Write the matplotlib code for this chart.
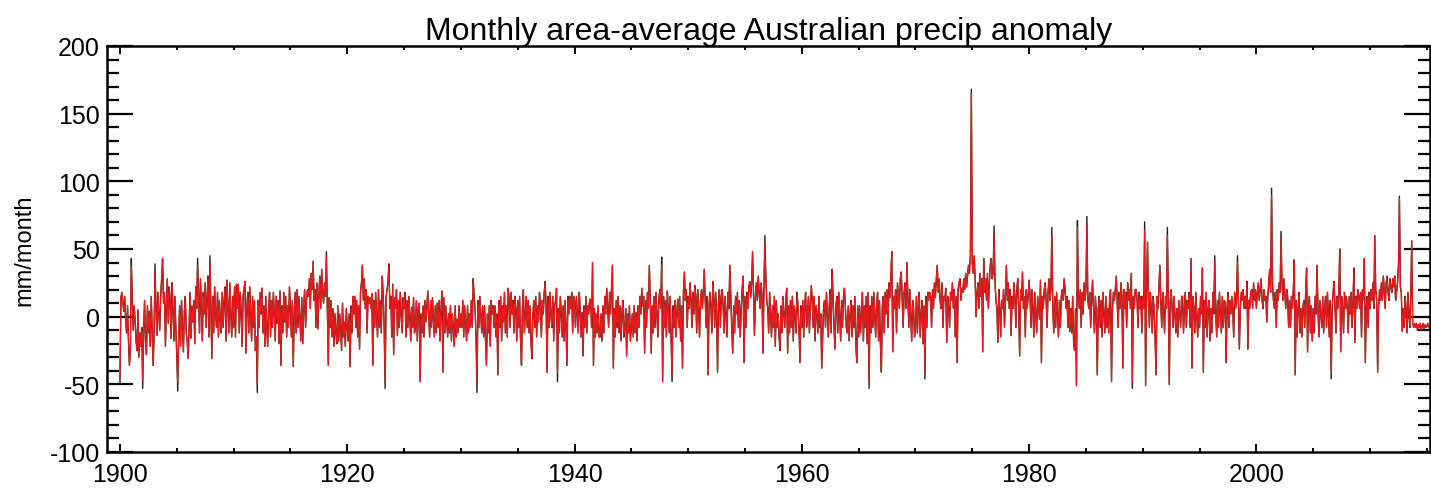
import numpy as np
import matplotlib
matplotlib.use("Agg")
import matplotlib.pyplot as plt
from matplotlib.ticker import MultipleLocator

plt.rcParams['font.family'] = ['Liberation Sans', 'DejaVu Sans']

# ---------------- data (mm/month anomaly, monthly from Jan 1900) ----------------
start_year = 1900

black_1900s = [
    -50, 14, 18, 10, 4, 15, -2, -12, 8, -18, -36, -25,
    43, 14, -10, 8, -3, -18, -25, 5, -30, -12, -22, -8,
    -53, -10, 12, -18, -28, 8, -12, 4, -22, 15, -8, -36,
    -15, 39, 8, -14, 18, 2, -10, 15, 28, 43, 10, 18,
    -22, 8, 28, -5, 22, 12, -16, 25, 6, -18, 15, -8,
    -28, -55, -15, 8, -22, 12, -8, -26, 4, 15, -12, -18,
    -31, -8, 18, -16, 8, -4, 12, -20, 22, 6, 43, 14,
    -12, 28, 6, -18, 18, 2, 25, -8, 14, 30, -15, 45,
    8, -31, 15, -12, 22, 2, -8, 18, -15, 12, -2, -12,
    18, -8, 12, 22, -18, 27, 6, -12, 25, 2, -15, 15,
]
black_1910s = [
    -8, 22, -15, 24, 6, 24, -12, 18, 3, -22, 15, 20,
    26, -27, 8, 18, -12, 22, 2, -18, 15, -8, 12, -25,
    -15, -56, 12, -8, 18, 2, 21, -12, 8, -22, 15, -8,
    -22, 8, 18, -15, 12, -8, 18, 2, -18, 15, -5, 12,
    -20, 19, -36, 8, -12, 18, -4, 15, -15, 8, -8, 22,
    6, -15, 12, -37, 2, 18, -12, 20, -8, 15, -2, -18,
    14, -20, 6, 20, -8, 12, 20, 15, 28, 6, 32, 20,
    41, 12, 20, -8, 25, -9, 15, 30, 6, 35, 18, 10,
    25, 15, 48, 6, -36, 14, -8, 12, -15, 6, -22, 2,
    -12, -20, 8, -18, 2, -8, -25, 10, -15, -4, -22, 6,
]
black_1920s = [
    -8, -18, 2, -37, 8, -12, 15, 2, 15, -8, 12, -15,
    8, -24, 18, 25, 38, 12, 28, 6, 20, -12, 15, 10,
    14, 6, 17, -36, 12, -8, 18, 2, -15, 20, -8, 12,
    -12, 30, 15, -8, -53, 14, 20, 25, 39, 6, 15, -15,
    24, -28, 14, 6, 20, -14, 12, -8, 18, 2, -12, 14,
    6, 18, -15, 12, -8, 15, 2, -18, 7, -8, 14, -12,
    -8, 12, -18, 6, 10, -48, 2, -12, 8, -15, 12, -4,
    6, 19, 2, -15, 12, -8, 14, -2, -15, 8, -12, 10,
    -8, 12, -18, 6, 19, -41, 14, -12, 8, -4, -15, 2,
    -12, 8, -18, 2, -8, -22, 8, -15, -2, -12, 8, -8,
]
black_1930s = [
    2, -8, 12, -15, 8, -4, -18, 8, -12, 2, -8, 12,
    -8, 28, 15, 6, -15, -56, 12, -8, 15, 2, -12, 8,
    -15, 8, -18, -36, 2, -12, 8, -22, 12, 2, 8, -8,
    8, -15, 2, -43, 12, -8, 15, -18, 8, -4, 18, -12,
    8, -15, 21, 12, -8, 18, 2, 12, -12, 15, 6, -18,
    12, -8, 15, -18, -36, 8, 20, -12, 2, 15, -8, 12,
    -12, 8, -18, -31, 2, 12, -8, 15, -15, 8, -4, 18,
    8, -15, 12, 2, 18, 26, 6, -41, 15, -8, 18, 2,
    -8, 15, -18, 8, 12, 21, -48, 6, -12, 15, 2, -15,
    8, -18, 12, -8, -36, 15, 2, 15, 6, 18, -12, 15,
]
black_1940s = [
    12, -8, 15, 2, -12, 18, 6, -15, 3, -29, 8, -8,
    15, -12, 8, 2, 13, 12, -8, 40, -36, 6, -15, 2,
    -12, 8, -15, -15, 2, -18, 8, -12, 15, 2, 21, 6,
    -8, 18, 2, 20, 38, -38, 6, -15, 12, -8, 15, -12,
    8, -18, 2, 12, -15, -8, 6, -29, 2, -12, 8, -18,
    -8, 2, -15, 8, -12, 3, -18, 8, -8, 15, 2, 21,
    8, 15, -27, 12, -8, 18, 6, 38, 12, -27, 8, -12,
    15, -8, 18, 2, -15, 12, 20, 6, 44, -48, 15, -8,
    12, -15, 19, 6, -12, 15, -18, -48, 8, -8, 12, -15,
    2, 13, -8, 15, -18, 8, -38, 18, 33, 12, 20, -8,
]
black_1950s = [
    15, 6, 25, 12, -8, 18, 2, 23, 15, -12, 20, 6,
    -15, 12, 20, 6, 18, 35, 12, -8, 15, -43, 8, 18,
    8, -12, 26, 15, -8, 18, 2, -41, 12, 20, -8, 15,
    20, 6, -12, 15, 2, -15, 18, 6, 38, 14, -8, -27,
    8, -12, 15, 2, 18, -8, 12, -15, 6, 20, 30, -34,
    15, -8, 18, 6, 22, 26, 14, 25, 48, 18, -14, 15,
    25, 12, 30, 18, 6, 25, 15, -27, 20, 60, 28, 12,
    6, -12, 18, 2, -15, 8, -8, 15, -22, 12, -8, 2,
    -15, -25, 8, -12, 15, 2, -8, 12, 21, -27, 8, -12,
    12, -8, 15, -18, 8, 2, -12, 18, 6, -8, -34, 8,
]
black_1960s = [
    -8, 12, -15, 8, 18, -8, 2, 15, -12, 8, 23, 12,
    -8, 15, -18, 8, 2, -12, 15, -8, 2, -38, -15, 8,
    12, -8, 18, 2, -15, 8, 20, -12, 35, 15, -8, -24,
    8, 15, -12, 18, 2, -18, 12, -8, 15, 21, 6, -8,
    -12, 8, -18, 2, 12, -15, 8, -8, 15, -20, -34, 8,
    -15, 8, -12, 2, 18, -18, 8, -8, 15, -20, 18, -53,
    8, -12, 15, -8, 18, 2, -15, 8, 18, -18, 12, -20,
    -41, 8, 15, -12, 18, 2, 20, -8, 25, 14, 30, 48,
    -26, 15, 6, 20, -12, 25, 15, 6, 28, 33, 12, -8,
    18, 25, 6, 40, 14, -8, 20, 2, -18, 12, 6, -15,
]
black_1970s = [
    -8, 15, -12, 8, 18, -15, 2, 12, -20, 8, -46, 15,
    -8, 18, 12, 18, 15, -8, 20, 6, 25, 14, 28, 38,
    18, 28, 12, 6, 25, -8, 15, 12, 21, -19, 15, 6,
    -8, 18, 12, 25, 6, 20, -15, 15, -34, 20, 25, 28,
    12, 21, 18, 28, 20, 32, 22, 30, 38, 32, 45, 168,
    40, 32, 45, 28, 0, 18, 25, 6, 32, 15, 28, -26,
    43, 18, 28, 12, 32, 6, 25, 38, 43, 28, 32, 67,
    25, 12, 6, -19, 20, 6, -15, 12, 6, 20, -8, 15,
    38, 12, 25, 6, 20, -14, 15, 6, 25, 15, -8, 20,
    28, 6, -29, 20, 12, 33, 6, 15, -15, 20, 6, 15,
]
black_1980s = [
    27, 15, -8, 20, 6, -15, 18, 2, -12, 15, 6, -2,
    27, -34, 15, 6, 20, 25, 12, -8, 18, 28, 12, 20,
    66, 6, -12, 15, -8, 18, 2, -15, 12, -8, 15, 20,
    12, 28, 20, 6, 15, -8, 12, -11, 6, -12, 15, -20,
    -25, 6, -51, 71, 15, 6, 20, -8, 18, 2, 25, 12,
    20, 74, 12, 6, 18, -8, 12, 27, 6, -12, 15, 2,
    -43, 6, 15, -8, 12, -15, 18, 2, -12, 15, -8, 6,
    -12, 15, 20, -48, 6, 18, 12, 20, 30, 12, -8, 18,
    6, 25, 15, -38, 20, 6, 18, -8, 25, 12, 20, 6,
    32, -53, 15, 6, 20, 20, 12, -8, 18, 6, 15, -12,
]
black_1990s = [
    15, 6, 70, -51, 20, 55, 12, -8, 18, 6, -12, 15,
    6, -15, -43, 15, 6, 20, 38, 12, -8, 18, 6, -12,
    15, 6, 66, 12, -50, 12, 20, 6, -8, 15, 2, -12,
    6, -15, 12, 2, -8, 15, 15, -12, 6, 18, -8, 12,
    6, 18, -8, 43, -38, 15, 6, -12, 18, 2, -15, 6,
    -8, 15, 2, 36, -41, 12, -8, 18, -15, 6, 12, -18,
    6, -12, 18, 2, 45, 6, -15, 12, -8, 18, 2, -12,
    15, -8, 12, 11, -34, 6, 18, -8, 12, 2, 15, 6,
    -15, 18, 6, 12, 45, 12, -24, 6, 18, 12, 20, 6,
    15, 6, 26, -24, 12, 6, 18, 20, 6, 25, 12, 20,
]
black_2000s = [
    6, 18, 25, 12, 20, 28, 12, 6, 20, 12, 15, -4,
    15, 25, 35, 18, 95, 25, 12, 6, 18, -8, 20, 12,
    25, 18, 63, 25, 12, 28, 18, 6, 20, 15, -8, 12,
    -8, 15, 6, 20, 42, -43, 12, -15, 6, 18, -12, 6,
    -15, 6, 12, -8, 18, 36, -26, 6, 15, -12, 8, -18,
    6, -12, 15, 2, 38, 6, -15, 12, 2, -8, 15, -12,
    6, 15, -8, 18, 2, -15, 12, -46, 6, 18, 26, 6,
    -12, 15, 6, 20, 50, -26, 15, 6, -12, 18, 6, 15,
    6, -12, 15, 2, 18, -8, 12, 36, -19, 15, 6, 20,
    15, 6, 18, -15, 20, 12, 43, -34, 6, 15, -8, 18,
]
black_2010s = [
    6, 20, 12, 25, 6, 60, 20, 12, -41, 6, 20, 12,
    25, 12, 30, 20, 6, 25, 30, 18, 12, 28, 22, 18,
    28, 22, 30, 12, 18, 25, 38, 89, 22, 18, -11, 6,
    -8, 15, 6, -12, 18, 2, -8, 15, 56, -5, -8, -5,
    -8, -5, -10, -6, -8, -5, -10, -7, -5, -9, -6, -8,
    -7, -5, -8, -6,
]

# month indices (from Jan 1900) where the red series differs from the black one
red_idx = [0, 12, 24, 37, 61, 82, 95, 145, 218, 280, 377, 462, 572, 583,
           681, 791, 850, 899, 923, 984, 1011, 1021, 1069, 1082, 1106,
           1156, 1180, 1216, 1226, 1279, 1351]
red_val = [-46, 38, -47, 33, -49, 38, 40, -50, 44, -47, -50, -42, 38, -43,
           55, -48, -41, 165, 62, 60, 66, 68, -48, 64, 60,
           41, 40, 90, 58, -41, 87]

# axis / tick labels
title = "Monthly area-average Australian precip anomaly"
ylabel = "mm/month"
xticks = [1900, 1920, 1940, 1960, 1980, 2000]
yticks = [-100, -50, 0, 50, 100, 150, 200]

# ---------------- build series ----------------
black = np.array(black_1900s + black_1910s + black_1920s + black_1930s +
                 black_1940s + black_1950s + black_1960s + black_1970s +
                 black_1980s + black_1990s + black_2000s + black_2010s, dtype=float)
red = black.copy()
red[np.array(red_idx)] = red_val
t = start_year + np.arange(len(black)) / 12.0

# ---------------- plot ----------------
fig = plt.figure(figsize=(14.31, 4.89), dpi=100)
ax = fig.add_axes([107 / 1431, 36 / 489, (1431 - 107) / 1431 - 0.0005, (453 - 47) / 489])

ax.plot(t, black, color='#222222', lw=1.0, zorder=2, clip_on=False)
ax.plot(t, red, color='#ea1a1a', lw=0.85, zorder=3, clip_on=False)

ax.set_xlim(1898.86, 2015.30)
ax.set_ylim(-100, 200)
ax.set_xticks(xticks)
ax.set_xticklabels([str(v) for v in xticks])
ax.set_yticks(yticks)
ax.set_yticklabels([str(v) for v in yticks])
ax.xaxis.set_minor_locator(MultipleLocator(5))
ax.yaxis.set_minor_locator(MultipleLocator(10))

ax.tick_params(axis='y', which='major', direction='in', length=19, width=1.6,
               left=True, right=True, labelsize=18, pad=5)
ax.tick_params(axis='y', which='minor', direction='in', length=8.5, width=1.6,
               left=True, right=True)
ax.tick_params(axis='x', which='major', direction='in', length=6, width=1.4,
               top=True, bottom=True, labelsize=18, pad=7)
ax.tick_params(axis='x', which='minor', direction='in', length=3, width=1.4,
               top=True, bottom=True)
for s in ax.spines.values():
    s.set_linewidth(1.8)

ax.set_title(title, fontsize=23, pad=5)
ax.set_ylabel(ylabel, fontsize=17, labelpad=10)

fig.savefig("out.png", dpi=100)
